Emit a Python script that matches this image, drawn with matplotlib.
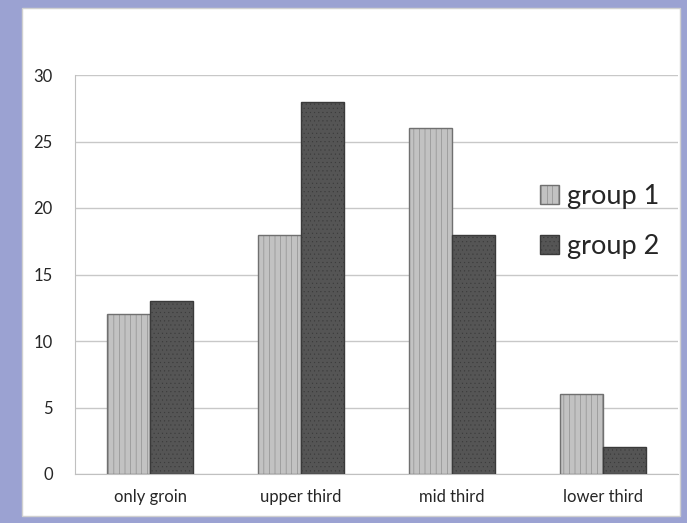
import matplotlib.pyplot as plt
import matplotlib.patches as mpatches
import numpy as np

categories = ['only groin', 'upper third', 'mid third', 'lower third']
group1 = [12, 18, 26, 6]
group2 = [13, 28, 18, 2]
series_names = ['group 1', 'group 2']

plt.rcParams['font.family'] = ['Lato', 'DejaVu Sans']
plt.rcParams['hatch.linewidth'] = 0.3

fig = plt.figure(figsize=(6.87, 5.23), dpi=100)
fig.patch.set_facecolor('#9ba2d2')

# white chart panel behind the axes
panel = mpatches.Rectangle((22 / 687, 1 - 516 / 523), 658 / 687, 508 / 523,
                           transform=fig.transFigure, facecolor='white',
                           edgecolor='#d0d0d0', linewidth=1.0, zorder=-10)
fig.patches.append(panel)

ax = fig.add_axes([75 / 687, 1 - 474 / 523, 603 / 687, 399 / 523])
ax.set_zorder(1)
ax.set_facecolor('none')

x = np.arange(len(categories))
w = 0.285
ax.bar(x - w / 2, group1, w, color='#c2c2c2', edgecolor='#707070',
       hatch='|||', linewidth=1.0, label=series_names[0], zorder=3)
ax.bar(x + w / 2, group2, w, color='#555555', edgecolor='#3a3a3a',
       hatch='....', linewidth=1.0, label=series_names[1], zorder=3)

ax.set_xlim(-0.5, 3.5)
ax.set_ylim(0, 30)
ax.set_yticks(range(0, 31, 5))
ax.set_xticks(x)
ax.set_xticklabels(categories)
ax.grid(axis='y', color='#c8c8c8', linewidth=1.0, zorder=0)
for s in ['top', 'right']:
    ax.spines[s].set_visible(False)
ax.spines['left'].set_color('#c0c0c0')
ax.spines['bottom'].set_color('#c0c0c0')
ax.tick_params(axis='both', length=0, labelsize=12, colors='#262626')
ax.tick_params(axis='y', pad=16)
ax.tick_params(axis='x', pad=11)

ax.legend(loc='center left', bbox_to_anchor=(0.73, 0.633), frameon=False,
          fontsize=19.5, handlelength=0.7, handleheight=0.7, handletextpad=0.3,
          labelspacing=0.95, labelcolor='#262626')

fig.savefig('out.png', dpi=100, facecolor=fig.get_facecolor())
